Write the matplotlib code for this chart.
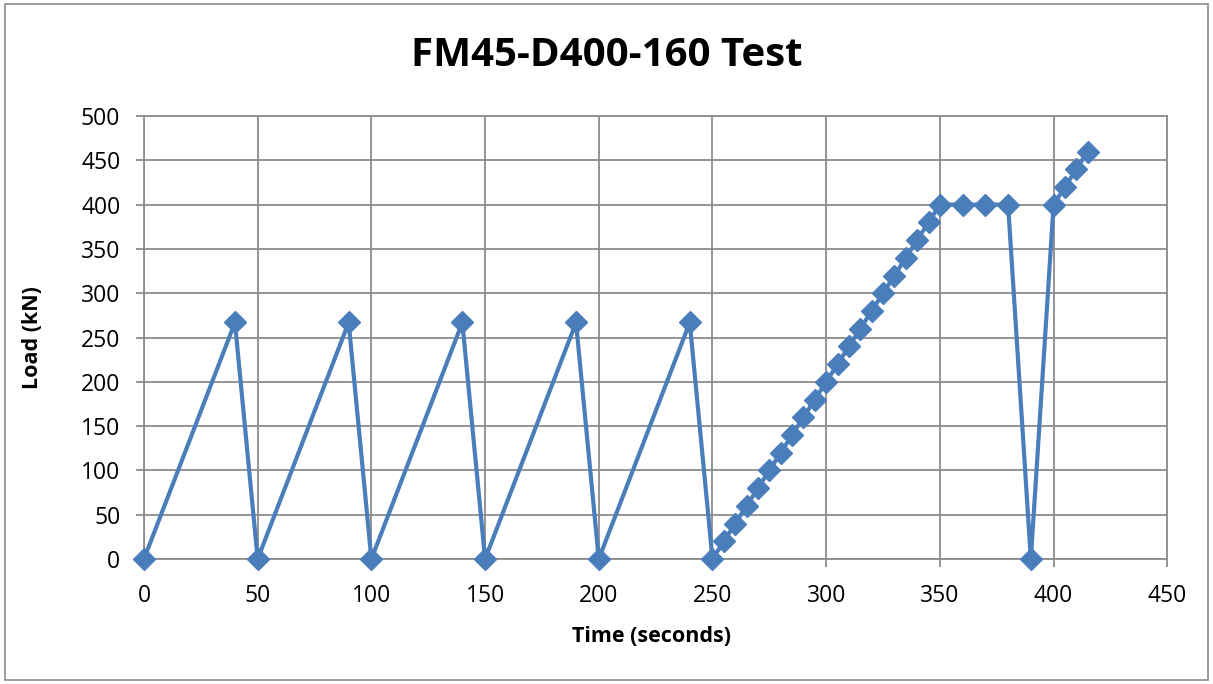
import matplotlib
matplotlib.use('Agg')
import matplotlib.pyplot as plt
from matplotlib.patches import Rectangle

# load cycles then ramp to failure
time_s = [0, 40, 50, 90, 100, 140, 150, 190, 200, 240, 250,
          255, 260, 265, 270, 275, 280, 285, 290, 295, 300,
          305, 310, 315, 320, 325, 330, 335, 340, 345, 350,
          360, 370, 380, 390, 400, 405, 410, 415]
load_kn = [0, 267, 0, 267, 0, 267, 0, 267, 0, 267, 0,
           20, 40, 60, 80, 100, 120, 140, 160, 180, 200,
           220, 240, 260, 280, 300, 320, 340, 360, 380, 400,
           400, 400, 400, 0, 400, 420, 440, 460]

xticks = list(range(0, 451, 50))
yticks = list(range(0, 501, 50))

plt.rcParams['font.family'] = ['Open Sans', 'DejaVu Sans']

fig = plt.figure(figsize=(12.13, 6.84), dpi=100)
ax = fig.add_axes([0.1187, 0.1827, 0.8436, 0.6476])

ax.plot(time_s, load_kn, color='#4A7EBB', lw=3, marker='D', ms=11,
        markeredgecolor='#4A7EBB', clip_on=False, zorder=3)

ax.set_xlim(0, 450)
ax.set_ylim(0, 500)
ax.set_xticks(xticks)
ax.set_yticks(yticks)
ax.grid(True, color='#8C8C8C', lw=1.3)
for s in ax.spines.values():
    s.set_color('#8C8C8C')
    s.set_linewidth(1.3)
ax.tick_params(length=6, width=1.3, color='#8C8C8C', labelsize=16.5)
ax.tick_params(axis='y', pad=11)
ax.tick_params(axis='x', pad=12)

fig.text(652 / 1213, 1 - 636 / 684, 'Time (seconds)', ha='center', va='center',
         fontsize=15.5, fontweight='bold')
fig.text(33 / 1213, 1 - 338 / 684, 'Load (kN)', ha='center', va='center',
         rotation=90, fontsize=15.5, fontweight='bold')
fig.text(0.5, 1 - 55 / 684, 'FM45-D400-160 Test', ha='center', va='center',
         fontsize=29, fontweight='bold')

fig.patches.append(Rectangle((0.004, 0.006), 0.992, 0.988, transform=fig.transFigure,
                             fill=False, edgecolor='#8C8C8C', lw=1.2))

fig.savefig('out.png', dpi=100)
